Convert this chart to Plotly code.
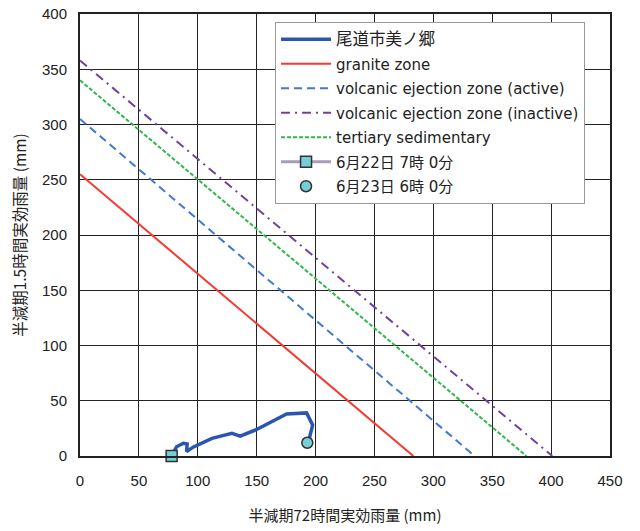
import plotly.graph_objects as go

# Data
curve_x = [77.8, 82, 87.7, 91, 90.5, 96, 112, 129, 136, 150, 175.4, 192.4, 197.5, 193.8]
curve_y = [0, 8.4, 11.5, 10.9, 3.9, 8, 16, 20.5, 18, 24, 38, 39, 28, 12]
start_x = [77.8]
start_y = [0]
end_x = [193]
end_y = [12]

granite_x = [0, 283]
granite_y = [255, 0]
active_x = [0, 335]
active_y = [305, 0]
inactive_x = [0, 401]
inactive_y = [358, 0]
tertiary_x = [0, 379]
tertiary_y = [340, 0]

names = ["尾道市美ノ郷", "granite zone", "volcanic ejection zone (active)",
         "volcanic ejection zone (inactive)", "tertiary sedimentary",
         "6月22日 7時 0分", "6月23日 6時 0分"]

xticks = [0, 50, 100, 150, 200, 250, 300, 350, 400, 450]
yticks = [0, 50, 100, 150, 200, 250, 300, 350, 400]

FONT = "Liberation Sans, Noto Sans CJK JP, sans-serif"
JFONT = "Noto Sans CJK JP, sans-serif"
LFONT = "DejaVu Sans, Noto Sans CJK JP, sans-serif"

fig = go.Figure()
fig.add_trace(go.Scatter(x=curve_x, y=curve_y, mode="lines",
                         name="<span style='font-size:16.5px'>" + names[0] + "</span>",
                         legendgroup="a",
                         line=dict(color="#2a56b0", width=3.5)))
fig.add_trace(go.Scatter(x=granite_x, y=granite_y, mode="lines", name=names[1], legendgroup="b",
                         line=dict(color="#f23a32", width=2)))
fig.add_trace(go.Scatter(x=active_x, y=active_y, mode="lines", name=names[2], legendgroup="c",
                         line=dict(color="#3f7ad0", width=2, dash="8px,5px")))
fig.add_trace(go.Scatter(x=inactive_x, y=inactive_y, mode="lines", name=names[3], legendgroup="d",
                         line=dict(color="#7040a0", width=2, dash="9px,5px,2px,5px")))
fig.add_trace(go.Scatter(x=tertiary_x, y=tertiary_y, mode="lines", name=names[4], legendgroup="e",
                         line=dict(color="#2fb848", width=2, dash="4px,2px")))
fig.add_trace(go.Scatter(x=start_x, y=start_y, mode="lines+markers", name=names[5], legendgroup="f",
                         line=dict(color="#a99bbd", width=3),
                         marker=dict(symbol="square", size=11, color="#76cfd6",
                                     line=dict(color="#333333", width=1.5)),
                         cliponaxis=False))
fig.add_trace(go.Scatter(x=end_x, y=end_y, mode="markers", name=names[6], legendgroup="g",
                         marker=dict(symbol="circle", size=11, color="#76cfd6",
                                     line=dict(color="#333333", width=1.5)),
                         cliponaxis=False))

fig.update_layout(
    width=640, height=531,
    margin=dict(l=80, r=30, t=14, b=75),
    paper_bgcolor="white", plot_bgcolor="white",
    font=dict(family=FONT, size=15, color="#222222"),
    legend=dict(x=0.368, y=0.982, xanchor="left", yanchor="top",
                bgcolor="white", bordercolor="#999999", borderwidth=1,
                font=dict(size=15, color="#222222", family=LFONT),
                tracegroupgap=2, itemwidth=50),
    xaxis=dict(range=[0, 450], tickvals=xticks, showgrid=True, gridcolor="#222222", gridwidth=1,
               showline=True, linecolor="#222222", linewidth=2, mirror=True, zeroline=False,
               ticks="", ticklabelstandoff=10, automargin=False,
               title=dict(text="半減期72時間実効雨量 (mm)", standoff=22,
                          font=dict(size=15, family=JFONT))),
    yaxis=dict(range=[0, 400], tickvals=yticks, showgrid=True, gridcolor="#222222", gridwidth=1,
               showline=True, linecolor="#222222", linewidth=2, mirror=True, zeroline=False,
               ticks="", ticklabelstandoff=8, automargin=False,
               title=dict(text="半減期1.5時間実効雨量 (mm)", standoff=12,
                          font=dict(size=15.5, family=JFONT))),
)

fig.write_html("out.html", config={"displayModeBar": False},
               post_script="document.body.style.margin='0px';document.body.style.overflow='hidden';")
